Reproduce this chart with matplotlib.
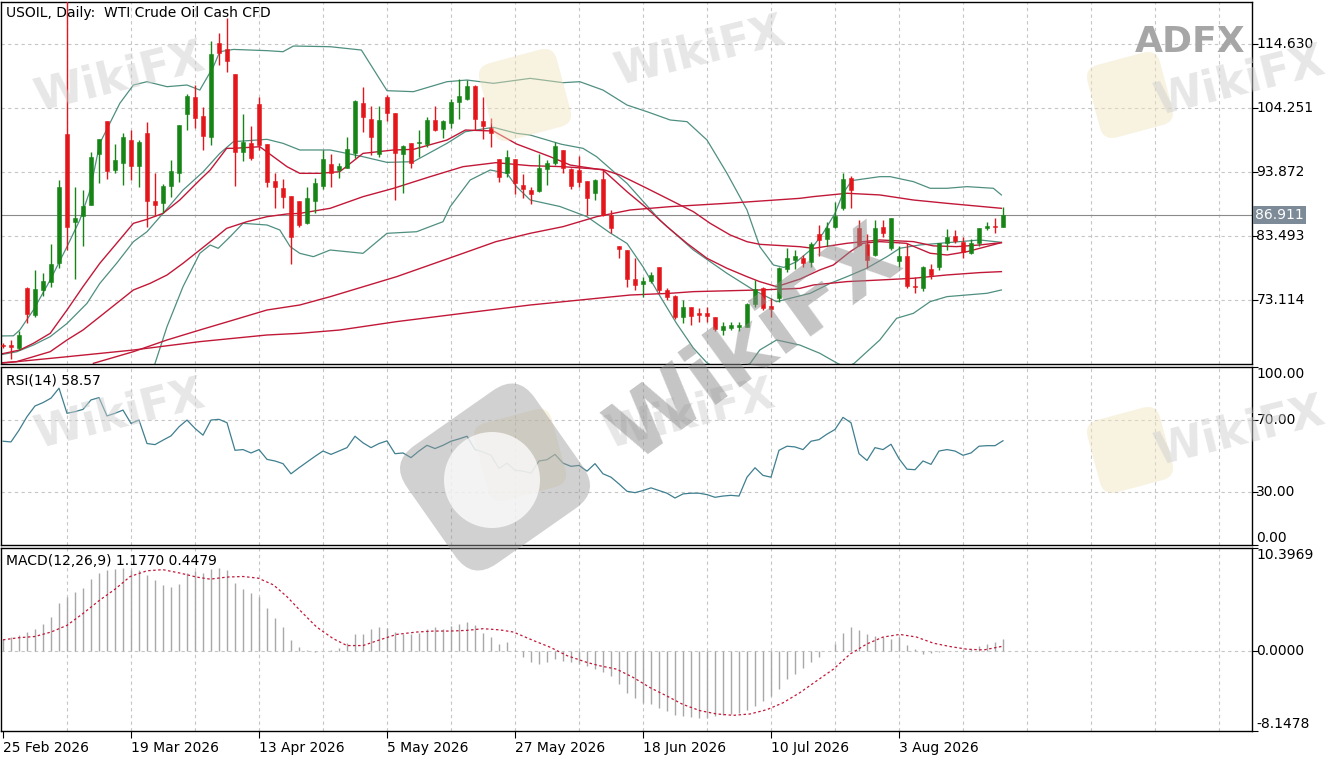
import numpy as np
import matplotlib
matplotlib.use("Agg")
import matplotlib.pyplot as plt
from matplotlib.patches import FancyBboxPatch, Circle
from matplotlib.transforms import Affine2D, IdentityTransform, blended_transform_factory

# ---- values (x = bar index, one bar per trading day) ----
opens = [65.8, 65.8, 65.3, 75.0, 70.7, 74.7, 76.1, 79.1, 100.07, 85.7,
         86.8, 88.6, 96.9, 102.1, 94.2, 95.3, 99.1, 94.8, 100.3, 89.2,
         88.9, 91.6, 93.8, 103.3, 106.1, 103.0, 99.6, 114.8, 113.9, 109.8,
         97.2, 98.6, 104.9, 98.4, 92.4, 91.3, 90.0, 89.2, 85.6, 89.2,
         91.7, 95.2, 94.2, 94.6, 97.0, 105.05, 102.5, 96.8, 106.1, 103.4,
         96.8, 98.67, 98.56, 98.45, 102.35, 100.83, 101.8, 105.3, 105.76, 107.87,
         102.2, 101.0, 95.96, 93.69, 96.0, 91.8, 90.98, 90.82, 94.39, 95.3,
         97.48, 94.34, 94.23, 92.5, 90.44, 92.7, 86.9, 81.8, 81.2, 76.5,
         75.67, 76.2, 78.5, 74.75, 73.76, 70.4, 71.9, 71.07, 70.96, 70.4,
         68.25, 68.5, 68.8, 68.8, 72.5, 75.0, 72.15, 73.4, 78.1, 79.6,
         79.9, 79.35, 83.9, 83.0, 85.03, 88.0, 93.0, 84.76, 82.2, 80.4,
         85.0, 81.5, 79.5, 80.27, 75.4, 75.0, 78.1, 78.5, 82.32, 83.5,
         82.59, 80.8, 82.43, 84.76, 85.1, 85.02]
highs = [66.2, 66.6, 68.0, 75.2, 78.0, 77.5, 82.2, 92.6, 123.0, 91.5,
         91.0, 97.2, 99.3, 102.1, 98.4, 100.2, 100.7, 99.1, 102.0, 93.7,
         91.9, 95.9, 101.6, 106.5, 108.0, 104.4, 115.2, 116.4, 118.9, 109.8,
         103.3, 101.3, 106.0, 98.4, 93.8, 92.7, 90.0, 89.2, 91.5, 92.9,
         97.4, 96.9, 95.3, 99.6, 105.6, 107.7, 104.6, 104.6, 106.4, 103.4,
         98.3, 98.67, 100.7, 102.9, 104.6, 102.35, 105.7, 108.95, 108.84, 108.0,
         106.0, 102.6, 95.96, 97.5, 96.0, 93.58, 91.4, 96.83, 95.85, 98.8,
         97.5, 94.5, 96.5, 92.5, 92.7, 94.2, 87.7, 81.9, 81.2, 79.9,
         76.9, 77.6, 78.5, 75.0, 73.9, 73.1, 72.0, 71.8, 72.0, 70.4,
         69.6, 69.6, 69.6, 72.6, 76.4, 75.3, 73.4, 78.5, 81.5, 81.2,
         80.4, 82.6, 85.3, 85.8, 89.1, 93.8, 93.26, 86.1, 83.9, 86.1,
         86.1, 86.4, 81.8, 82.4, 76.9, 78.65, 78.97, 82.32, 84.6, 84.5,
         83.3, 82.97, 84.87, 85.7, 86.4, 88.27]
lows = [65.3, 63.6, 65.0, 69.3, 70.4, 73.7, 75.3, 78.3, 81.2, 76.6,
        81.8, 88.5, 92.1, 92.8, 93.7, 91.8, 92.6, 91.5, 84.9, 86.7,
        87.2, 89.9, 92.3, 100.7, 101.0, 97.5, 98.3, 111.3, 110.2, 91.7,
        95.7, 95.8, 97.5, 91.4, 88.0, 88.0, 78.9, 85.0, 85.5, 87.2,
        91.1, 91.5, 92.9, 94.5, 96.1, 100.4, 96.7, 96.4, 102.1, 89.36,
        90.55, 94.5, 96.4, 98.0, 100.6, 99.37, 101.0, 102.5, 105.6, 100.7,
        99.2, 97.9, 92.3, 93.15, 90.33, 89.63, 88.7, 90.7, 91.8, 95.0,
        93.7, 91.09, 91.4, 86.9, 89.36, 86.76, 83.95, 79.9, 75.3, 74.75,
        73.65, 75.8, 74.2, 73.1, 70.1, 69.3, 69.07, 69.6, 69.6, 68.0,
        67.4, 68.25, 68.0, 68.8, 72.0, 71.5, 70.4, 72.85, 77.7, 78.1,
        78.5, 78.5, 80.2, 81.8, 84.76, 87.7, 88.0, 81.8, 78.3, 80.2,
        83.3, 81.3, 78.5, 75.0, 74.2, 74.64, 76.5, 78.0, 81.2, 82.3,
        80.0, 80.6, 81.8, 84.5, 84.06, 84.9]
closes = [65.6, 65.4, 67.4, 70.9, 74.85, 76.2, 78.9, 91.4, 85.0, 86.4,
          88.4, 96.4, 99.2, 94.1, 95.9, 99.6, 94.9, 98.7, 89.2, 88.6,
          91.6, 94.1, 101.5, 106.2, 102.6, 99.7, 113.1, 113.3, 112.0, 97.2,
          98.7, 96.1, 98.3, 92.2, 91.4, 89.8, 83.4, 85.3, 89.6, 92.1,
          96.0, 93.7, 94.9, 97.6, 105.5, 102.8, 99.6, 102.35, 103.4, 97.0,
          98.1, 95.3, 98.83, 102.35, 100.7, 102.2, 105.3, 106.2, 107.87, 102.45,
          101.37, 100.18, 93.15, 96.29, 92.07, 91.1, 90.28, 94.5, 95.3, 98.1,
          94.5, 91.7, 92.34, 89.63, 92.6, 86.9, 84.76, 81.4, 76.6, 75.6,
          76.25, 77.17, 74.74, 73.65, 70.3, 72.0, 70.5, 70.7, 70.5, 68.35,
          68.9, 69.05, 69.05, 72.5, 74.85, 71.76, 71.6, 78.26, 79.9, 80.3,
          79.08, 82.2, 82.9, 84.87, 86.76, 92.71, 90.98, 82.05, 79.6, 84.75,
          83.94, 86.38, 80.3, 75.39, 75.2, 78.53, 77.18, 82.32, 83.4, 82.75,
          80.96, 82.3, 84.75, 85.1, 84.9, 86.911]

# Bollinger bands (teal) and moving averages (red), sampled along each line
bb_up_x = [-0.4, 1.3, 2.1, 3.8, 5.9, 8.0, 9.6, 10.9, 12.1, 14.6, 16.3, 18.0, 20.5, 23.0,
           24.6, 26.3, 27.1, 28.8, 33.0, 35.0, 36.3, 40.9, 44.8, 48.0, 51.3, 55.5, 58.0,
           61.3, 65.9, 70.0, 72.1, 75.0, 78.0, 80.5, 83.4, 85.5, 88.0, 90.5, 93.0, 94.6,
           96.3, 97.6, 99.2, 100.9, 102.5, 104.0, 105.0, 106.1, 109.6, 110.9, 113.8, 115.9,
           118.0, 120.5, 123.8, 124.8]
bb_up_y = [67.27, 67.3, 68.24, 71.49, 76.36, 81.77, 86.1, 90.97, 98.55, 105.04, 108.02,
           108.56, 107.75, 108.02, 107.2, 111.0, 113.43, 113.8, 113.6, 113.43, 114.35,
           114.24, 113.7, 107.1, 106.94, 108.56, 108.83, 108.29, 109.1, 108.4, 108.56,
           107.2, 104.77, 103.69, 102.34, 102.07, 99.09, 93.68, 87.73, 81.77, 78.8, 78.4,
           79.34, 81.2, 83.94, 87.19, 90.44, 92.5, 93.14, 93.14, 92.33, 91.25, 91.25,
           91.52, 91.25, 90.17]
bb_mid_x = [-0.4, 1.7, 3.8, 5.9, 8.0, 10.5, 12.1, 14.2, 16.3, 18.0, 20.0, 22.5, 25.0, 27.1,
            28.8, 33.0, 35.0, 37.1, 40.9, 45.0, 48.0, 51.3, 55.5, 57.8, 61.3, 64.2, 65.9,
            69.8, 72.5, 74.2, 78.0, 82.1, 86.3, 90.5, 93.8, 96.7, 100.9, 103.4, 105.5,
            107.95, 110.5, 112.1, 114.6, 122.1, 124.8]
bb_mid_y = [64.2, 64.7, 65.8, 67.16, 69.3, 72.57, 75.8, 79.07, 82.58, 84.2, 87.18, 90.97,
            93.9, 96.92, 98.82, 99.2, 98.55, 97.47, 97.47, 96.38, 95.46, 95.57, 98.55,
            100.44, 101.15, 100.17, 99.9, 98.4, 97.74, 96.38, 92.05, 86.1, 81.23, 77.44,
            74.74, 72.84, 74.2, 75.82, 76.9, 78.26, 80.15, 81.51, 82.05, 82.86, 82.48]
bb_lo_x = [19.0, 20.5, 22.5, 24.6, 25.9, 26.9, 28.4, 30.0, 33.0, 34.6, 35.9, 37.1, 38.8,
           40.9, 45.0, 48.0, 51.7, 55.0, 55.9, 58.4, 60.9, 63.0, 64.2, 65.9, 69.6, 73.0,
           75.9, 78.0, 80.0, 82.1, 84.2, 86.3, 88.0, 90.7, 93.4, 94.6, 96.7, 99.6, 102.1,
           104.3, 105.4, 106.4, 109.6, 111.7, 113.8, 115.9, 118.0, 120.5, 123.0, 124.8]
bb_lo_y = [62.8, 68.78, 75.28, 80.69, 82.04, 81.5, 83.4, 85.56, 85.29, 84.48, 81.77, 80.69,
           80.15, 81.23, 80.69, 83.94, 84.2, 85.83, 88.27, 92.6, 94.22, 93.68, 91.5, 89.35,
           88.3, 86.64, 84.0, 82.3, 78.5, 73.8, 69.3, 65.3, 62.9, 61.0, 62.83, 65.0, 66.62,
           65.8, 64.46, 62.83, 62.2, 62.83, 66.62, 70.14, 70.95, 72.85, 73.66, 73.93, 74.2,
           74.74]
ma_fast_x = [-0.4, 2.1, 3.8, 5.9, 8.0, 10.0, 12.1, 14.2, 16.3, 18.0, 20.0, 22.1, 24.6, 25.9,
             27.96, 28.8, 32.1, 33.8, 35.5, 37.1, 39.6, 42.1, 45.0, 48.8, 51.3, 55.5, 57.8,
             61.3, 64.2, 68.4, 70.9, 75.0, 78.0, 80.5, 83.0, 85.5, 88.0, 90.5, 93.0, 94.6,
             96.7, 99.6, 102.1, 103.8, 105.9, 107.5, 109.6, 112.9, 115.9, 118.0, 120.5, 124.8]
ma_fast_y = [64.3, 64.99, 66.08, 67.7, 71.49, 75.28, 79.07, 82.31, 85.56, 86.21, 87.18,
             89.35, 92.6, 94.22, 97.74, 97.74, 98.0, 96.38, 94.76, 93.68, 93.68, 93.95,
             96.92, 97.47, 97.57, 99.09, 100.71, 100.55, 98.44, 96.38, 95.03, 94.22, 90.7,
             88.0, 85.02, 82.31, 79.88, 78.26, 76.9, 76.09, 75.28, 76.5, 77.99, 78.8, 80.96,
             82.32, 82.59, 82.32, 80.7, 80.42, 80.96, 82.43]
ma_mid_x = [-0.4, 1.7, 5.9, 8.0, 10.0, 12.1, 14.2, 16.3, 18.4, 20.5, 22.5, 24.6, 26.7, 27.96,
            30.5, 33.0, 35.5, 37.1, 40.9, 45.0, 48.8, 53.4, 57.5, 61.6, 65.9, 70.0, 75.0,
            77.1, 80.5, 83.4, 86.3, 88.4, 90.9, 93.0, 94.6, 96.7, 99.6, 101.3, 105.5, 109.6,
            113.8, 116.3, 119.2, 122.1, 124.8]
ma_mid_y = [62.9, 63.1, 64.72, 66.62, 68.24, 70.4, 72.57, 74.74, 75.82, 77.17, 79.07, 81.23,
            83.4, 84.75, 85.83, 86.64, 87.08, 87.18, 88.0, 89.89, 91.24, 93.14, 94.76, 95.41,
            94.92, 94.76, 94.3, 93.41, 91.24, 89.35, 87.45, 85.56, 83.67, 82.58, 82.15,
            81.99, 81.77, 81.5, 82.32, 82.86, 82.59, 81.9, 81.78, 82.05, 82.43]
ma_slow_x = [11.3, 16.3, 20.5, 24.6, 28.8, 33.0, 37.1, 40.9, 49.2, 57.5, 61.6, 65.9, 70.0,
             74.2, 78.4, 83.4, 90.5, 99.6, 101.3, 105.5, 109.6, 113.8, 118.0, 124.8]
ma_slow_y = [62.83, 64.72, 66.62, 68.24, 69.86, 71.49, 72.3, 73.65, 76.9, 80.69, 82.58,
             83.94, 85.02, 86.64, 87.73, 88.27, 88.81, 89.62, 89.9, 90.44, 90.17, 89.35,
             88.81, 88.0]
ma_long_x = [-0.4, 8.0, 16.3, 24.6, 33.0, 37.1, 42.1, 49.2, 57.5, 65.9, 74.2, 78.4, 83.4,
             86.3, 94.6, 99.6, 101.3, 105.5, 109.6, 113.8, 118.0, 122.1, 124.8]
ma_long_y = [62.83, 63.9, 64.99, 66.35, 67.43, 67.7, 68.24, 69.6, 70.95, 72.3, 73.38, 73.92,
             74.2, 74.47, 74.74, 75.0, 75.55, 76.1, 76.36, 76.64, 77.18, 77.56, 77.72]

rsi = [58.3, 57.9, 64.5, 72.1, 78.1, 80.0, 82.5, 88.1, 74.0, 74.9,
       76.2, 81.5, 82.8, 72.5, 74.0, 75.8, 68.3, 70.2, 57.0, 56.4,
       58.9, 61.3, 66.4, 70.2, 65.5, 61.7, 70.2, 70.6, 68.7, 53.2,
       53.6, 51.7, 53.6, 48.1, 47.2, 45.7, 40.0, 43.4, 46.6, 49.8,
       52.8, 50.9, 52.8, 54.7, 61.1, 57.4, 54.7, 57.0, 58.5, 51.3,
       51.7, 49.1, 52.8, 56.0, 54.2, 56.0, 58.3, 59.6, 61.1, 53.6,
       52.3, 50.4, 43.0, 46.0, 42.0, 41.5, 40.4, 47.2, 47.9, 50.9,
       46.0, 44.2, 44.7, 41.5, 45.7, 40.0, 38.1, 34.3, 30.2, 29.4,
       30.6, 32.1, 30.6, 29.1, 26.4, 28.7, 29.1, 29.1, 28.3, 26.8,
       27.5, 27.9, 27.5, 38.1, 43.4, 39.1, 38.1, 53.2, 55.5, 55.1,
       53.6, 58.3, 59.2, 62.3, 64.9, 71.7, 68.7, 51.3, 47.5, 54.7,
       53.6, 56.6, 48.5, 42.6, 42.3, 47.2, 45.3, 52.8, 53.6, 52.8,
       50.4, 51.7, 55.5, 55.8, 55.8, 58.57]

macd = [1.2, 1.37, 1.54, 1.88, 2.22, 2.73, 3.42, 4.85, 5.46, 5.91,
        6.32, 7.24, 7.86, 8.13, 8.27, 8.37, 8.2, 8.13, 7.68, 7.17,
        6.66, 6.49, 6.76, 7.86, 8.03, 7.86, 8.27, 8.37, 8.2, 6.9,
        6.22, 5.81, 5.4, 4.27, 3.35, 2.39, 1.09, 0.34, 0.07, -0.1,
        -0.05, 0.07, 0.27, 0.75, 1.64, 1.71, 2.22, 2.39, 2.29, 1.88,
        1.71, 1.64, 1.78, 2.22, 2.39, 2.22, 2.46, 2.73, 2.9, 2.56,
        1.78, 1.37, 0.68, 0.85, 0.05, -0.68, -1.2, -1.37, -1.2, -0.85,
        -1.02, -1.2, -1.37, -1.54, -1.88, -2.12, -2.56, -3.42, -4.27, -4.78,
        -5.29, -5.46, -5.81, -6.15, -6.56, -6.66, -6.76, -6.83, -6.83, -6.66,
        -6.49, -6.42, -6.32, -5.98, -5.64, -5.12, -4.61, -3.93, -2.9, -2.39,
        -1.78, -1.2, -0.61, -0.07, 0.68, 1.78, 2.39, 2.12, 1.64, 1.43,
        1.37, 1.2, 1.37, 0.61, 0.17, -0.34, -0.27, -0.17, -0.07, 0.0,
        0.07, 0.17, 0.51, 0.68, 0.85, 1.177]
sig_x = [0, 1.9, 4.0, 6.0, 8.0, 10.0, 12.1, 14.0, 15.9, 18.0, 20.0, 22.1, 24.2, 25.9, 28.0,
         30.0, 31.9, 33.8, 35.5, 37.1, 39.2, 41.3, 43.0, 45.0, 47.1, 49.2, 51.7, 53.8, 55.9,
         58.0, 60.0, 62.1, 63.8, 66.3, 68.4, 70.5, 73.0, 74.6, 76.7, 78.8, 80.9, 83.0, 85.0,
         87.1, 89.2, 91.3, 93.4, 95.5, 97.5, 99.6, 101.7, 103.8, 105.9, 108.0, 110.0, 112.1,
         114.2, 116.3, 118.4, 120.5, 122.6, 125]
sig_y = [1.09, 1.3, 1.43, 1.88, 2.56, 3.76, 5.12, 6.22, 7.51, 8.09, 8.2, 7.86, 7.45, 7.24,
         7.45, 7.51, 7.34, 6.66, 5.46, 4.1, 2.39, 1.2, 0.51, 0.51, 1.09, 1.64, 1.88, 1.98,
         1.98, 2.05, 2.22, 2.1, 1.88, 1.02, 0.34, -0.51, -1.2, -1.54, -1.88, -2.73, -3.76,
         -4.61, -5.46, -6.08, -6.42, -6.56, -6.42, -5.98, -5.29, -4.27, -3.07, -1.88, -0.34,
         0.68, 1.37, 1.64, 1.37, 0.75, 0.41, 0.14, 0.07, 0.4479]

price_ticks = [114.630, 104.251, 93.872, 83.493, 73.114]
rsi_ticks = [100, 70, 30, 0]
macd_ticks = [10.3969, 0.0, -8.1478]
date_bars = [0, 16, 32, 48, 64, 80, 96, 112]
date_labels = ["25 Feb 2026", "19 Mar 2026", "13 Apr 2026", "5 May 2026",
               "27 May 2026", "18 Jun 2026", "10 Jul 2026", "3 Aug 2026"]

# ---- styles ----
BULL, BEAR = "#168516", "#e5161b"
TEAL, RED = "#4f8f80", "#c21838"
GRID = dict(color="#c6c6c6", lw=0.8, ls=(0, (3, 3)), zorder=0)

W, H = 1330, 760
fig = plt.figure(figsize=(W / 100, H / 100), dpi=100)
fig.patch.set_facecolor("white")


def px_axes(top, bottom, left=1, right=1252):
    return fig.add_axes([left / W, 1 - bottom / H, (right - left) / W, (bottom - top) / H])


ax1 = px_axes(2, 364)
ax2 = px_axes(367, 545)
ax3 = px_axes(548, 731)

x = np.arange(len(closes))
o, h, l, c = map(np.asarray, (opens, highs, lows, closes))
up = c >= o

for ax in (ax1, ax2, ax3):
    ax.set_xlim(-0.25, 156.125)
    for b in range(8, 156, 8):
        ax.axvline(b, **GRID)
    for s in ax.spines.values():
        s.set_color("black")
        s.set_linewidth(1.0)
    ax.yaxis.set_ticks_position("right")
    ax.tick_params(axis="y", length=4, width=0.8, direction="out",
                   labelright=False, labelleft=False)

# ---- price panel ----
ax1.set_ylim(62.72, 121.5)
ax1.set_yticks(price_ticks)
for v in price_ticks:
    ax1.axhline(v, **GRID)
ax1.set_xticks([])
ax1.axhline(closes[-1], color="#8a8a8a", lw=0.8, zorder=1)

for xs, ys in [(bb_up_x, bb_up_y), (bb_mid_x, bb_mid_y), (bb_lo_x, bb_lo_y)]:
    ax1.plot(xs, ys, color=TEAL, lw=0.9, zorder=2)
for xs, ys in [(ma_fast_x, ma_fast_y), (ma_mid_x, ma_mid_y),
               (ma_slow_x, ma_slow_y), (ma_long_x, ma_long_y)]:
    ax1.plot(xs, ys, color=RED, lw=1.0, zorder=2)

cols = np.where(up, BULL, BEAR)
ax1.vlines(x, l, h, colors=cols, lw=1.0, zorder=3)
body_lo = np.minimum(o, c)
body_h = np.maximum(np.abs(c - o), 0.15)
ax1.bar(x, body_h, bottom=body_lo, width=0.62, color=cols, edgecolor=cols,
        linewidth=0.4, zorder=4)

tr1 = blended_transform_factory(ax1.transAxes, ax1.transData)
for v in price_ticks:
    ax1.text(1.0035, v, "%.3f" % v, transform=tr1, ha="left", va="center", fontsize=10)
ax1.text(1.0022, closes[-1], "%.3f" % closes[-1], transform=tr1, ha="left", va="center",
         fontsize=10, color="white", zorder=6,
         bbox=dict(boxstyle="square,pad=0.16", fc="#7d8a98", ec="none"))
ax1.text(0.004, 0.988, "USOIL, Daily:  WTI Crude Oil Cash CFD", transform=ax1.transAxes,
         ha="left", va="top", fontsize=10)

# ---- RSI panel ----
ax2.set_ylim(0, 100)
ax2.set_yticks(rsi_ticks)
ax2.set_xticks([])
for v in (70, 30):
    ax2.axhline(v, **GRID)
ax2.plot(x, rsi, color="#3f7f8f", lw=0.9, zorder=3)
tr2 = blended_transform_factory(ax2.transAxes, ax2.transData)
for v in rsi_ticks:
    va = "top" if v == 100 else ("bottom" if v == 0 else "center")
    ax2.text(1.0035, v, "%.2f" % v, transform=tr2, ha="left", va=va, fontsize=10)
ax2.text(0.004, 0.965, "RSI(14) %.2f" % rsi[-1], transform=ax2.transAxes,
         ha="left", va="top", fontsize=10)

# ---- MACD panel ----
ax3.set_ylim(-8.1478, 10.3969)
ax3.set_yticks(macd_ticks)
ax3.axhline(0, **GRID)
ax3.vlines(x, 0, macd, colors="#a8a8a8", lw=1.0, zorder=2)
ax3.plot(sig_x, sig_y, color=RED, lw=0.9, ls=(0, (2, 2)), zorder=3)
tr3 = blended_transform_factory(ax3.transAxes, ax3.transData)
for v in macd_ticks:
    va = "top" if v == macd_ticks[0] else ("bottom" if v == macd_ticks[-1] else "center")
    ax3.text(1.0035, v, "%.4f" % v, transform=tr3, ha="left", va=va, fontsize=10)
ax3.text(0.004, 0.965, "MACD(12,26,9) %.4f %.4f" % (macd[-1], sig_y[-1]),
         transform=ax3.transAxes, ha="left", va="top", fontsize=10)
ax3.set_xticks(date_bars)
ax3.set_xticklabels(date_labels, ha="left", fontsize=10)
ax3.tick_params(axis="x", length=5, width=0.8, direction="out", pad=2)


# ---- watermarks ----
def px(xp, yp):
    return xp / W, 1 - yp / H


def rot_px(cx, cy, ang):
    return Affine2D().rotate_deg_around(cx, H - cy, ang) + IdentityTransform()


for (cx, cy, size) in [(525, 95, 80), (1130, 95, 75), (520, 455, 80), (1130, 450, 75)]:
    fig.add_artist(FancyBboxPatch((cx - size / 2, H - cy - size / 2), size, size,
                                  boxstyle="round,pad=0,rounding_size=14", fc="#f1e3bd",
                                  ec="none", alpha=0.45, transform=rot_px(cx, cy, 15)))

for (xp, yp) in [(120, 78), (700, 52), (1240, 82), (120, 415), (690, 415), (1240, 432)]:
    fig.text(*px(xp, yp), "WikiFX", fontsize=32, fontweight="bold", color="#cfcfcf",
             alpha=0.5, rotation=14, ha="center", va="center")

# big tilted logo and lettering in the middle
fig.add_artist(FancyBboxPatch((495 - 78, H - 477 - 72), 156, 144,
                              boxstyle="round,pad=0,rounding_size=30", fc="#9a9a9a",
                              ec="none", alpha=0.45, transform=rot_px(495, 477, 35)))
fig.add_artist(Circle((492, H - 480), 48, fc="white", ec="none", alpha=0.75,
                      transform=IdentityTransform()))
fig.text(*px(755, 345), "WikiFX", fontsize=62, fontweight="bold", color="#8c8c8c",
         alpha=0.5, rotation=36, ha="center", va="center")
fig.text(*px(1190, 42), "ADFX", fontsize=26, fontweight="bold", color="#a6a6a6",
         ha="center", va="center")

fig.savefig("out.png", dpi=100, facecolor="white")
